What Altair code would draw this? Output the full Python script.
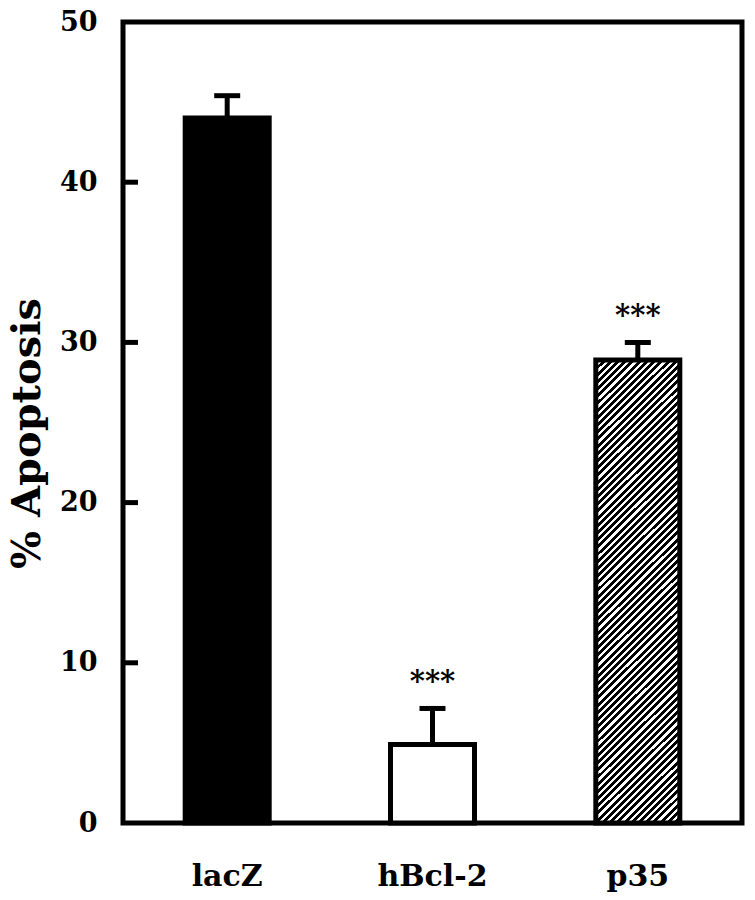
import altair as alt
import pandas as pd

# ---- data ----
groups = ["lacZ", "hBcl-2", "p35"]
means = [44.0, 4.9, 28.9]
errors = [1.4, 2.25, 1.1]
signif = ["", "***", "***"]
y_ticks = [0, 10, 20, 30, 40, 50]
inner_ticks = [10, 20, 30, 40]

df = pd.DataFrame({"group": groups, "mean": means, "err": errors, "sig": signif})
df["upper"] = df["mean"] + df["err"]
ticks_df = pd.DataFrame({"v": inner_ticks})

FONT = "DejaVu Serif"
W, H = 619, 801

# diagonal hatch as a striped linear gradient (style only)
bw, bh = 84.0, 465.0
k = (bw + bh) / (bw * bw + bh * bh)
N = 76
stops = []
for i in range(N):
    a = i / N
    b = (i + 0.55) / N
    c = (i + 1) / N
    stops += [
        {"offset": a, "color": "black"},
        {"offset": b, "color": "black"},
        {"offset": b, "color": "white"},
        {"offset": c, "color": "white"},
    ]
hatch = {"gradient": "linear", "x1": 0, "y1": 0, "x2": bw * k, "y2": bh * k, "stops": stops}

xscale = alt.Scale(domain=groups, paddingInner=0.591, paddingOuter=0.303)
yscale = alt.Scale(domain=[0, 50], nice=False)

xenc = alt.X(
    "group:N",
    scale=xscale,
    sort=groups,
    axis=alt.Axis(title=None, labelAngle=0),
)
yenc = alt.Y(
    "mean:Q",
    scale=yscale,
    axis=alt.Axis(
        title="% Apoptosis", values=y_ticks, grid=False,
        titleY=411, titleAlign="center",
    ),
)

base = alt.Chart(df)

bars_plain = base.mark_bar(stroke="black", strokeWidth=5, size=84).encode(
    x=xenc,
    y=yenc,
    fill=alt.Fill("group:N", scale=alt.Scale(domain=["lacZ", "hBcl-2"], range=["black", "white"]), legend=None),
).transform_filter(alt.datum.group != "p35")

bars_hatch = base.mark_bar(stroke="black", strokeWidth=5, size=84, fill=hatch).encode(
    x=xenc, y=yenc
).transform_filter(alt.datum.group == "p35")

stems = base.mark_rule(color="black", strokeWidth=5, opacity=1).encode(
    x=xenc, y=alt.Y("mean:Q", scale=yscale), y2="upper:Q"
)
caps = base.mark_tick(color="black", thickness=5, size=26, orient="horizontal", opacity=1).encode(
    x=xenc, y=alt.Y("upper:Q", scale=yscale)
)
stars = base.mark_text(
    font=FONT, fontWeight="bold", fontSize=29, color="black", baseline="middle", dy=-26
).encode(x=xenc, y=alt.Y("upper:Q", scale=yscale), text="sig:N")

inticks = alt.Chart(ticks_df).mark_rule(color="black", strokeWidth=5, opacity=1).encode(
    x=alt.value(0), x2=alt.value(15), y=alt.Y("v:Q", scale=yscale)
)

chart = (
    alt.layer(bars_plain, bars_hatch, stems, caps, stars, inticks)
    .properties(
        width=W, height=H,
        background="white",
        autosize=alt.AutoSizeParams(type="none"),
        padding={"left": 115, "top": 14, "right": 5, "bottom": 70},
    )
    .configure_view(stroke="black", strokeWidth=5, strokeOpacity=1)
    .configure_axisX(
        domain=False, ticks=False, tickSize=0, grid=False,
        labelFont=FONT, labelFontWeight="bold", labelFontSize=30, labelColor="black",
        labelPadding=38, labelBaseline="top",
    )
    .configure_axisY(
        domain=False, ticks=False, tickSize=0, grid=False,
        labelFont=FONT, labelFontWeight="bold", labelFontSize=27, labelColor="black",
        labelPadding=26, titleFont=FONT, titleFontWeight="bold", titleFontSize=40,
        titleColor="black", titlePadding=12,
    )
)

chart.save("out.html", embed_options={"renderer": "svg", "actions": False})
